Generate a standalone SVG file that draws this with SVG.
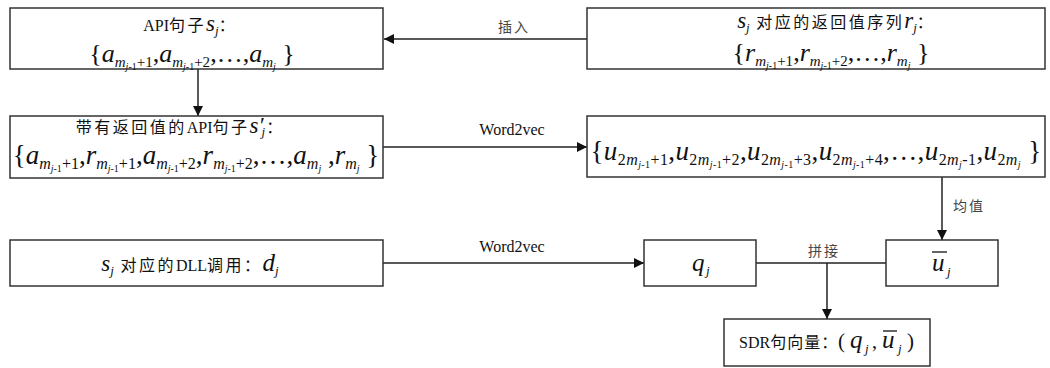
<svg xmlns="http://www.w3.org/2000/svg" width="1050" height="368" viewBox="0 0 1050 368">
<style>
text{font-family:"Liberation Serif","Noto Sans CJK SC",serif;fill:#111}
.box{fill:#fff;stroke:#333;stroke-width:1.5}
.ln{stroke:#222;stroke-width:1.5;fill:none}
.m{font-size:26px}
.m2{font-size:27px}
.t{font-size:16px}
.c{letter-spacing:2.5px}
.i{font-style:italic}
.s{font-size:15px}
.s2{font-size:16px}
.ss{font-size:10px}
.lb{font-size:14px;fill:#444;letter-spacing:2px}
.ov{stroke:#111;stroke-width:1.3}
</style>
<defs>
<marker id="ah" viewBox="0 0 10 10" refX="10" refY="5" markerWidth="10" markerHeight="10" markerUnits="userSpaceOnUse" orient="auto">
<path d="M0,0 L10,5 L0,10 z" fill="#111"/>
</marker>
</defs>
<g id="connectors">
<line class="ln" x1="587" y1="39" x2="384" y2="39" marker-end="url(#ah)"/>
<text class="lb" x="514" y="32" text-anchor="middle">插入</text>
<line class="ln" x1="198" y1="69" x2="198" y2="116" marker-end="url(#ah)"/>
<line class="ln" x1="383" y1="147" x2="587" y2="147" marker-end="url(#ah)"/>
<text class="t" x="512" y="135" text-anchor="middle">Word2vec</text>
<line class="ln" x1="942" y1="177" x2="942" y2="240" marker-end="url(#ah)"/>
<text class="lb" x="969" y="211" text-anchor="middle">均值</text>
<line class="ln" x1="383" y1="263" x2="644" y2="263" marker-end="url(#ah)"/>
<text class="t" x="512" y="252" text-anchor="middle">Word2vec</text>
<line class="ln" x1="756" y1="263" x2="886" y2="263"/>
<text class="lb" x="824" y="256" text-anchor="middle">拼接</text>
<line class="ln" x1="827" y1="263" x2="827" y2="319" marker-end="url(#ah)"/>
</g>
<g id="n1">
<rect class="box" x="10" y="8" width="373" height="61"/>
<text class="t" x="189" y="31" text-anchor="middle">API<tspan class="c">句子</tspan><tspan class="i" font-size="23">s</tspan><tspan class="i" font-size="13" dy="4">j</tspan><tspan dy="-4">：</tspan></text>
<text class="m" x="192" y="62" text-anchor="middle">{<tspan class="i">a</tspan><tspan class="s i" dy="5">m</tspan><tspan class="ss i" dy="3">j</tspan><tspan class="ss">-1</tspan><tspan class="s" dy="-3">+1</tspan><tspan dy="-5">,</tspan><tspan class="i">a</tspan><tspan class="s i" dy="5">m</tspan><tspan class="ss i" dy="3">j</tspan><tspan class="ss">-1</tspan><tspan class="s" dy="-3">+2</tspan><tspan dy="-5">,…,</tspan><tspan class="i">a</tspan><tspan class="s i" dy="5">m</tspan><tspan class="ss i" dy="3">j</tspan><tspan dy="-8"> }</tspan></text>
</g>
<g id="n2">
<rect class="box" x="587" y="8" width="458" height="61"/>
<text class="t" x="835" y="28" text-anchor="middle"><tspan class="i" font-size="23">s</tspan><tspan class="i" font-size="13" dy="4">j</tspan><tspan dy="-4" class="c"> 对应的返回值序列</tspan><tspan class="i" font-size="23">r</tspan><tspan class="i" font-size="13" dy="4">j</tspan><tspan dy="-4">：</tspan></text>
<text class="m" x="831" y="61" text-anchor="middle">{<tspan class="i">r</tspan><tspan class="s i" dy="5">m</tspan><tspan class="ss i" dy="3">j</tspan><tspan class="ss">-1</tspan><tspan class="s" dy="-3">+1</tspan><tspan dy="-5">,</tspan><tspan class="i">r</tspan><tspan class="s i" dy="5">m</tspan><tspan class="ss i" dy="3">j</tspan><tspan class="ss">-1</tspan><tspan class="s" dy="-3">+2</tspan><tspan dy="-5">,…,</tspan><tspan class="i">r</tspan><tspan class="s i" dy="5">m</tspan><tspan class="ss i" dy="3">j</tspan><tspan dy="-8"> }</tspan></text>
</g>
<g id="n3">
<rect class="box" x="10" y="116" width="373" height="62"/>
<text class="t" x="179" y="133" text-anchor="middle"><tspan class="c">带有返回值的</tspan>API<tspan class="c">句子</tspan><tspan class="i" font-size="23">s′</tspan><tspan class="i" font-size="13" dy="3" dx="-2">j</tspan><tspan dy="-3" dx="1">：</tspan></text>
<text class="m2" x="196" y="164" text-anchor="middle">{<tspan class="i">a</tspan><tspan class="s2 i" dy="5">m</tspan><tspan class="ss i" dy="3">j</tspan><tspan class="ss">-1</tspan><tspan class="s2" dy="-3">+1</tspan><tspan dy="-5">,</tspan><tspan class="i">r</tspan><tspan class="s2 i" dy="5">m</tspan><tspan class="ss i" dy="3">j</tspan><tspan class="ss">-1</tspan><tspan class="s2" dy="-3">+1</tspan><tspan dy="-5">,</tspan><tspan class="i">a</tspan><tspan class="s2 i" dy="5">m</tspan><tspan class="ss i" dy="3">j</tspan><tspan class="ss">-1</tspan><tspan class="s2" dy="-3">+2</tspan><tspan dy="-5">,</tspan><tspan class="i">r</tspan><tspan class="s2 i" dy="5">m</tspan><tspan class="ss i" dy="3">j</tspan><tspan class="ss">-1</tspan><tspan class="s2" dy="-3">+2</tspan><tspan dy="-5">,…,</tspan><tspan class="i">a</tspan><tspan class="s2 i" dy="5">m</tspan><tspan class="ss i" dy="3">j</tspan><tspan dy="-8"> ,</tspan><tspan class="i">r</tspan><tspan class="s2 i" dy="5">m</tspan><tspan class="ss i" dy="3">j</tspan><tspan dy="-8"> }</tspan></text>
</g>
<g id="n4">
<rect class="box" x="587" y="116" width="458" height="61"/>
<text class="m2" x="816" y="160" text-anchor="middle" letter-spacing="0.4">{<tspan class="i">u</tspan><tspan class="s2" dy="5">2<tspan class="i">m</tspan></tspan><tspan class="ss i" dy="3">j</tspan><tspan class="ss">-1</tspan><tspan class="s2" dy="-3">+1</tspan><tspan dy="-5">,</tspan><tspan class="i">u</tspan><tspan class="s2" dy="5">2<tspan class="i">m</tspan></tspan><tspan class="ss i" dy="3">j</tspan><tspan class="ss">-1</tspan><tspan class="s2" dy="-3">+2</tspan><tspan dy="-5">,</tspan><tspan class="i">u</tspan><tspan class="s2" dy="5">2<tspan class="i">m</tspan></tspan><tspan class="ss i" dy="3">j</tspan><tspan class="ss">-1</tspan><tspan class="s2" dy="-3">+3</tspan><tspan dy="-5">,</tspan><tspan class="i">u</tspan><tspan class="s2" dy="5">2<tspan class="i">m</tspan></tspan><tspan class="ss i" dy="3">j</tspan><tspan class="ss">-1</tspan><tspan class="s2" dy="-3">+4</tspan><tspan dy="-5">,…,</tspan><tspan class="i">u</tspan><tspan class="s2" dy="5">2<tspan class="i">m</tspan></tspan><tspan class="ss i" dy="3">j</tspan><tspan class="s2" dy="-3">-1</tspan><tspan dy="-5">,</tspan><tspan class="i">u</tspan><tspan class="s2" dy="5">2<tspan class="i">m</tspan></tspan><tspan class="ss i" dy="3">j</tspan><tspan dy="-8"> }</tspan></text>
</g>
<g id="n5">
<rect class="box" x="10" y="240" width="373" height="46"/>
<text class="t" x="190" y="271" text-anchor="middle"><tspan class="i" font-size="23">s</tspan><tspan class="i" font-size="13" dy="4">j</tspan><tspan dy="-4" class="c"> 对应的</tspan>DLL<tspan class="c">调用：</tspan><tspan class="i" font-size="25">d</tspan><tspan class="i" font-size="13" dy="4">j</tspan></text>
</g>
<g id="n6">
<rect class="box" x="644" y="240" width="112" height="46"/>
<text x="692" y="271" class="i" font-size="25">q</text>
<text x="706" y="275" class="i" font-size="13">j</text>
</g>
<g id="n7">
<rect class="box" x="886" y="240" width="112" height="46"/>
<text x="932" y="271" class="i" font-size="25">u</text>
<text x="947" y="276" class="i" font-size="13">j</text>
<line class="ov" x1="932" y1="252" x2="947" y2="252"/>
</g>
<g id="n8">
<rect class="box" x="724" y="319" width="206" height="47"/>
<text class="t" x="739" y="348">SDR<tspan letter-spacing="1">句向量</tspan>：</text>
<text x="838" y="348" font-size="21">(</text>
<text x="850" y="348" class="i" font-size="25">q</text>
<text x="865" y="353" class="i" font-size="13">j</text>
<text x="872" y="348" font-size="20">,</text>
<text x="882" y="348" class="i" font-size="25">u</text>
<line class="ov" x1="883" y1="331" x2="897" y2="331"/>
<text x="898" y="353" class="i" font-size="13">j</text>
<text x="907" y="348" font-size="21">)</text>
</g>
</svg>
